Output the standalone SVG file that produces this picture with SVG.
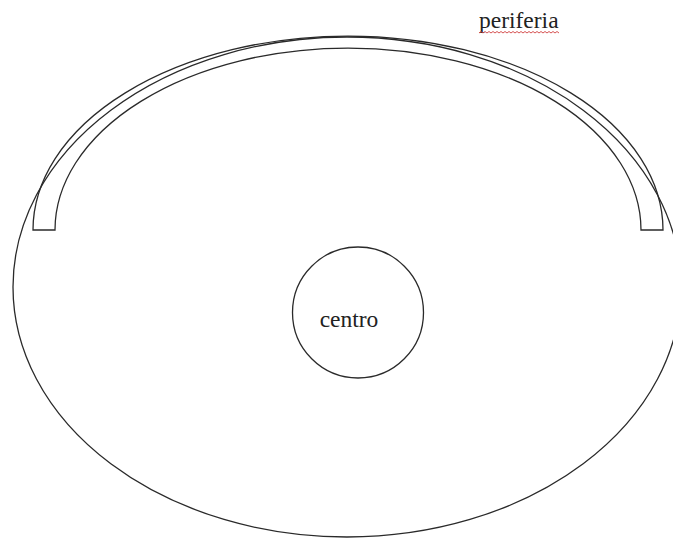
<svg xmlns="http://www.w3.org/2000/svg" width="673" height="538" viewBox="0 0 673 538">
<style>
.ln{fill:none;stroke:#2a2a2a;stroke-width:1.3}
.tx{font-family:'Liberation Serif','DejaVu Serif',serif;font-size:23.5px;fill:#222}
</style>
<rect width="673" height="538" fill="#fff"/>
<g id="periferia-region">
<ellipse class="ln" cx="347" cy="287" rx="334" ry="250"/>
</g>
<g id="band">
<path class="ln" d="M33 230 A315 194 0 0 1 663 230 L641 230 A293 182 0 0 0 55 230 Z"/>
</g>
<g id="centro">
<circle class="ln" cx="358" cy="312.5" r="65.5"/>
<text class="tx" x="349" y="327" text-anchor="middle">centro</text>
</g>
<g id="label-periferia">
<text class="tx" x="479" y="28">periferia</text>
<polyline fill="none" stroke="#d04040" stroke-width="0.9" points="479,33 481,31.5 483,33 485,31.5 487,33 489,31.5 491,33 493,31.5 495,33 497,31.5 499,33 501,31.5 503,33 505,31.5 507,33 509,31.5 511,33 513,31.5 515,33 517,31.5 519,33 521,31.5 523,33 525,31.5 527,33 529,31.5 531,33 533,31.5 535,33 537,31.5 539,33 541,31.5 543,33 545,31.5 547,33 549,31.5 551,33 553,31.5 555,33 557,31.5 559,33"/>
</g>
</svg>
